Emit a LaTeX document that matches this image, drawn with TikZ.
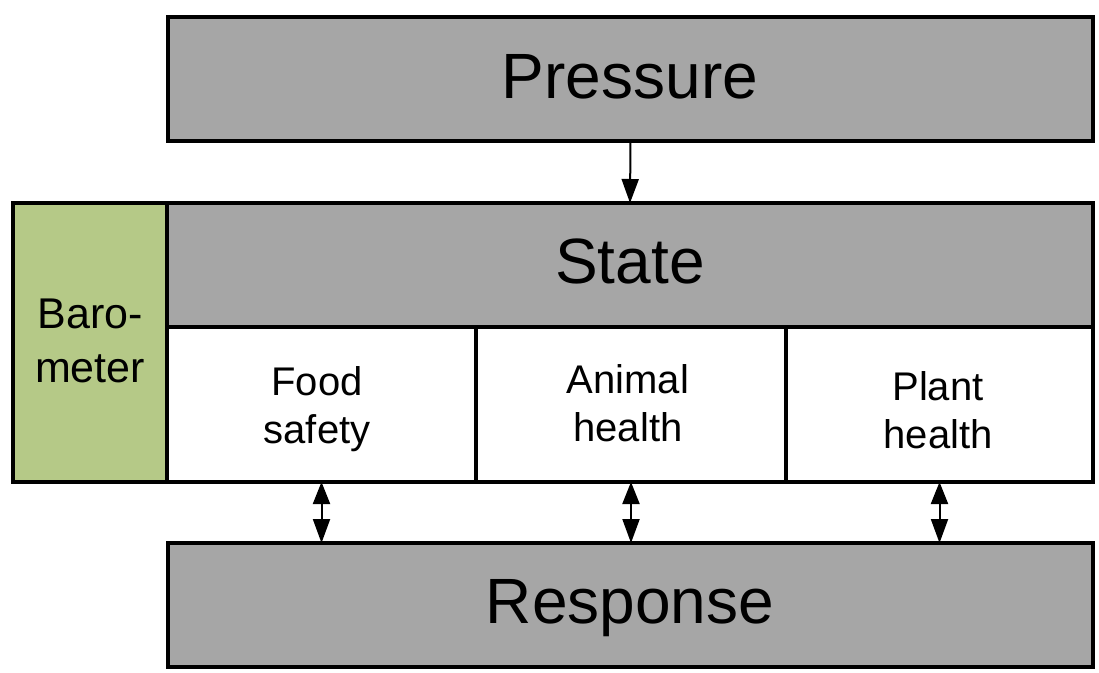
\documentclass[tikz,border=0pt]{standalone}
\usepackage{fontspec}
\setmainfont{Liberation Sans}
\usetikzlibrary{arrows.meta}
\definecolor{boxgray}{RGB}{166,166,166}
\definecolor{barogreen}{RGB}{181,201,135}
\tikzset{
  box/.style={draw=black, line width=3.3pt, inner sep=0pt, outer sep=0pt, rectangle, line join=miter},
  graybox/.style={box, fill=boxgray},
  whitebox/.style={box, fill=white},
  greenbox/.style={box, fill=barogreen},
  bigtxt/.style={anchor=base, inner sep=0pt, font=\fontsize{64}{70}\selectfont},
  smalltxt/.style={anchor=base, inner sep=0pt, align=center, font=\fontsize{40}{48}\selectfont},
  barotxt/.style={anchor=base, inner sep=0pt, align=center, font=\fontsize{43}{54}\selectfont},
  conn/.style={line width=2pt, -{Triangle[length=24pt,width=17pt]}},
  dconn/.style={line width=2pt, {Triangle[length=22pt,width=17pt]}-{Triangle[length=24pt,width=17pt]}}
}
\begin{document}
\begin{tikzpicture}[x=1pt,y=-1pt]
\useasboundingbox[fill=white] (0,0) rectangle (1099,672);
% boxes
\node[graybox, minimum width=925pt, minimum height=124pt] (P) at (630.5,79) {};
\node[greenbox, minimum width=154pt, minimum height=279pt] (B) at (90,342.5) {};
\node[graybox, minimum width=926pt, minimum height=124pt] (S) at (630,265) {};
\node[whitebox, minimum width=309pt, minimum height=155pt] (F) at (321.5,404.5) {};
\node[whitebox, minimum width=310pt, minimum height=155pt] (A) at (631,404.5) {};
\node[whitebox, minimum width=307pt, minimum height=155pt] (L) at (939.5,404.5) {};
\node[graybox, minimum width=925pt, minimum height=124pt] (R) at (630.5,605) {};
% texts
\node[bigtxt] (Pt) at (630,98) {Pressure};
\node[bigtxt] (St) at (630,283) {State};
\node[bigtxt] (Rt) at (630,623) {Response};
\node[barotxt] (Bt) at (90,382) {Baro-\\meter};
\node[smalltxt] (Ft) at (317,443) {Food\\safety};
\node[smalltxt] (At) at (628,441) {Animal\\health};
\node[smalltxt] (Lt) at (938,448) {Plant\\health};
% connectors
\draw[conn] (P.south) -- (S.north);
\draw[dconn] (F.south) -- (F.south |- R.north);
\draw[dconn] (A.south) -- (A.south |- R.north);
\draw[dconn] (L.south) -- (L.south |- R.north);
\end{tikzpicture}
\end{document}
